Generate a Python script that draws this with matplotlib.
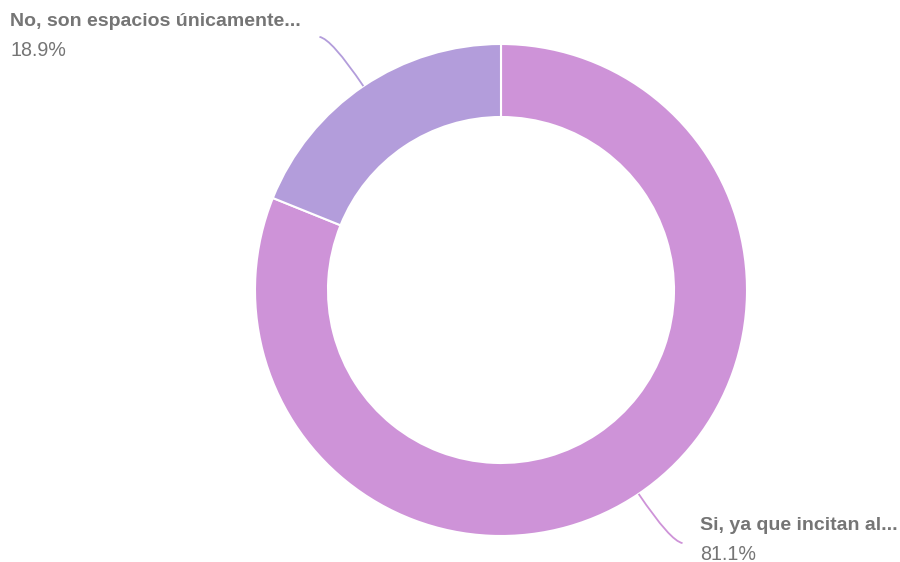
import numpy as np
import matplotlib.pyplot as plt
from matplotlib.path import Path
from matplotlib.patches import PathPatch

# Data
labels = ["Si, ya que incitan al...", "No, son espacios únicamente..."]
values = [81.1, 18.9]
colors = ["#ce93d8", "#b39ddb"]

plt.rcParams['font.family'] = ['Liberation Sans', 'DejaVu Sans']

fig = plt.figure(figsize=(9, 5.62), dpi=100)
ax = fig.add_axes([0, 0, 1, 1])

cx, cy, r = 501, 272, 246
wedges, _ = ax.pie(values, colors=colors, startangle=90, counterclock=False,
                   center=(cx, cy), radius=r, frame=True,
                   wedgeprops=dict(width=73, edgecolor='white', linewidth=1.5))
ax.set_xlim(0, 900)
ax.set_ylim(0, 562)
ax.set_aspect('equal')
ax.axis('off')

# leader lines and labels
text_color = "#757575"
label_pos = {0: (700, 36), 1: (10, 540)}
for i, w in enumerate(wedges):
    mid = np.deg2rad((w.theta1 + w.theta2) / 2)
    x0, y0 = cx + r * np.cos(mid), cy + r * np.sin(mid)
    x1, y1 = cx + (r + 57) * np.cos(mid), cy + (r + 57) * np.sin(mid)
    side = 1 if np.cos(mid) > 0 else -1
    x2, y2 = x1 + side * 12, y1 + (2 if side < 0 else -2)
    path = Path([(x0, y0), (x1, y1), (x2, y2)], [Path.MOVETO, Path.CURVE3, Path.CURVE3])
    ax.add_patch(PathPatch(path, fill=False, edgecolor=colors[i], linewidth=1.3))
    tx, ty = label_pos[i]
    ax.text(tx, ty, labels[i], fontsize=14, fontweight='bold', color=text_color,
            ha='left', va='center')
    ax.text(tx, ty - 28, f"{values[i]}%", fontsize=14.2, color=text_color,
            ha='left', va='center')

fig.savefig("out.png", dpi=100)
